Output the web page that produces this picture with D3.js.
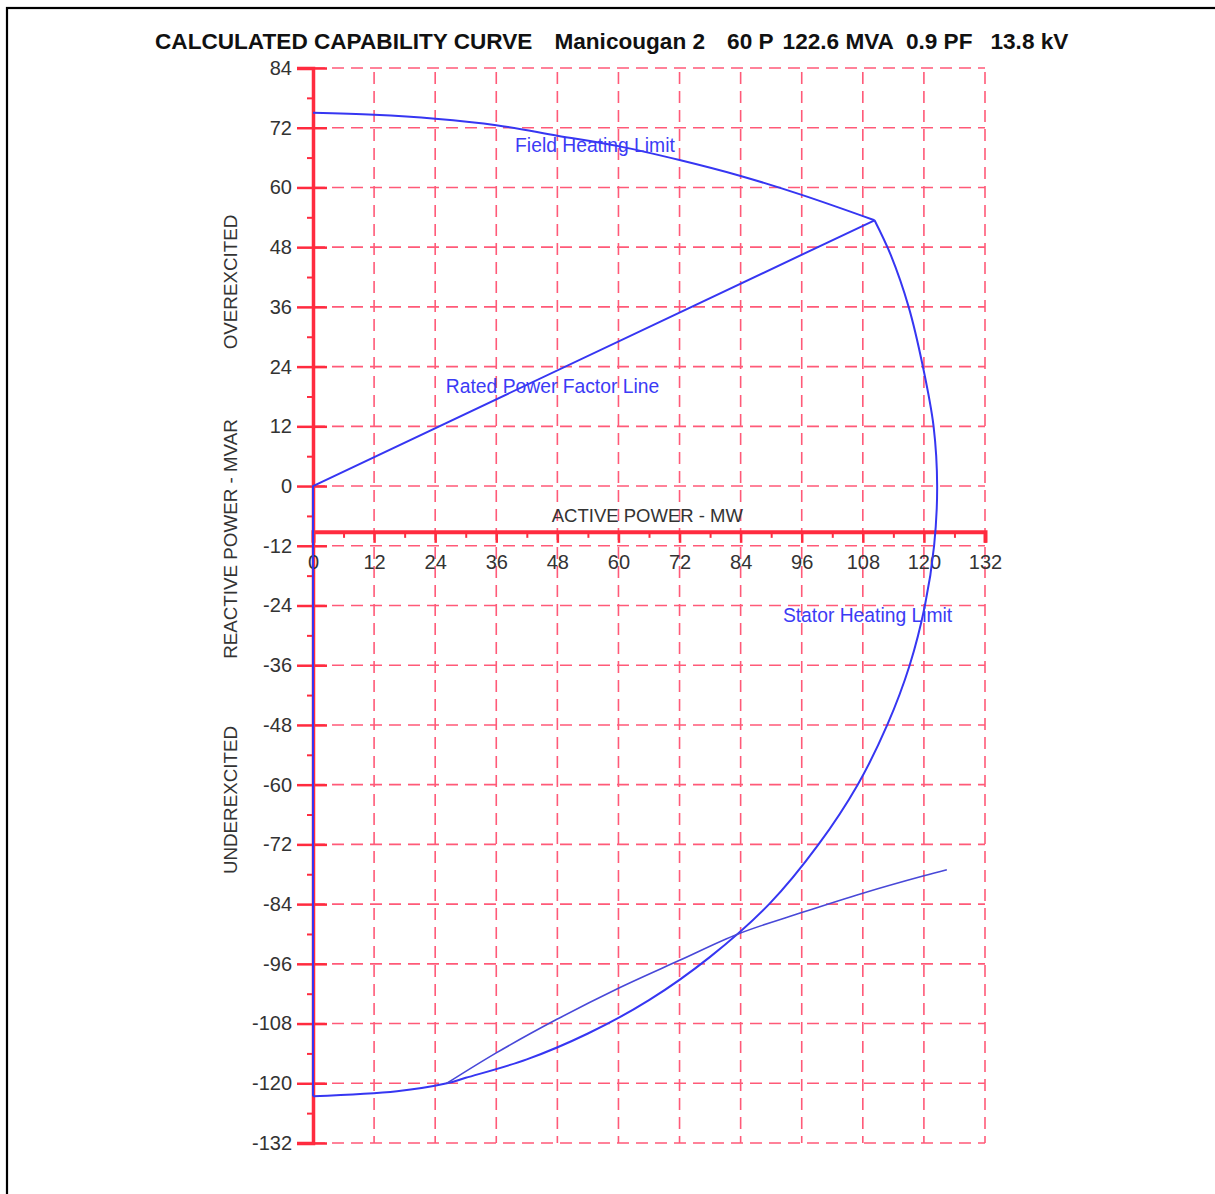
<!DOCTYPE html>
<html>
<head>
<meta charset="utf-8">
<script src="https://cdn.jsdelivr.net/npm/d3@7"></script>
<style>
	body { margin: 0; background: #fff; }
	svg { display: block; font-family: "Liberation Sans", Arial, sans-serif; }
</style>
</head>
<body>
<div id="chart"></div>
<script>
// Chart data (MW, MVAR)
var titleParts = ["CALCULATED CAPABILITY CURVE", "Manicougan 2", "60 P", "122.6 MVA", "0.9 PF", "13.8 kV"];

var xTicks = [0, 12, 24, 36, 48, 60, 72, 84, 96, 108, 120, 132];
var yTicks = [84, 72, 60, 48, 36, 24, 12, 0, -12, -24, -36, -48, -60, -72, -84, -96, -108, -120, -132];

// Field heating limit (overexcited)
var fieldLimit = [[0, 75], [12, 74.6], [24, 73.8], [36, 72.5], [48, 70.4], [60, 68.3],
	[72, 65.5], [84, 62.3], [96, 58.5], [110.3, 53.4]];

// Stator heating limit
var statorLimit = [[110.3, 53.4], [113.5, 46.4], [117, 36], [119.8, 24], [121.9, 12], [122.6, 0],
	[122, -12], [120.2, -24], [117.2, -36], [112.8, -48], [107, -60], [99.3, -72], [89.6, -84],
	[78, -94.6], [66, -103.3], [54, -110], [42, -115.2], [30, -118.9], [26.3, -120],
	[16.5, -121.6], [0, -122.6]];

// Rated power factor line + vertical limit along the axis
var pfLine = [[110.3, 53.4], [0, 0], [0, -122.6]];

// Underexcited stability limit
var stabilityLimit = [[26.3, -120], [36, -113.9], [48, -107.1], [60, -100.9], [72, -95.3],
	[83.5, -90], [96, -85.7], [108, -81.8], [120, -78.3], [124.5, -77.1]];

var curveLabels = [
	{text: "Field Heating Limit", x: 39.7, y: 67.2},
	{text: "Rated Power Factor Line", x: 26.1, y: 18.6},
	{text: "Stator Heating Limit", x: 92.3, y: -27.4}
];

var xAxisValue = -9.2;

var W = 1215, H = 1194;
var red = "#ff2b3f", grid = "#ff5a78", blue = "#3636f2", textCol = "#333";

var svg = d3.select("#chart").append("svg")
	.attr("width", W)
	.attr("height", H);

svg.append("rect").attr("width", W).attr("height", H).attr("fill", "#fff");

// frame
svg.append("rect")
	.attr("x", 7).attr("y", 8)
	.attr("width", W + 20).attr("height", H + 20)
	.attr("fill", "none")
	.attr("stroke", "#000")
	.attr("stroke-width", 2.2);

var x = d3.scaleLinear().domain([0, 132]).range([313, 985]);
var y = d3.scaleLinear().domain([84, -132]).range([68, 1143]);

// Title
var title = svg.append("text")
	.attr("x", 155).attr("y", 49)
	.attr("font-size", 22.6)
	.attr("font-weight", "bold")
	.attr("fill", "#111");
var gaps = [0, 22, 22, 9, 12, 18];
title.selectAll("tspan")
	.data(titleParts)
	.enter().append("tspan")
	.attr("dx", function(d, i) { return gaps[i]; })
	.text(function(d) { return d; });

// Grid
var g = svg.append("g").attr("class", "grid");
g.selectAll(".hgrid")
	.data(yTicks)
	.enter().append("line")
	.attr("x1", x(0)).attr("x2", x(132))
	.attr("y1", function(d) { return y(d); })
	.attr("y2", function(d) { return y(d); })
	.attr("stroke", grid)
	.attr("stroke-width", 1.6)
	.attr("stroke-dasharray", "12,7");

g.selectAll(".vgrid")
	.data(xTicks.slice(1))
	.enter().append("line")
	.attr("y1", y(84)).attr("y2", y(-132))
	.attr("x1", function(d) { return x(d); })
	.attr("x2", function(d) { return x(d); })
	.attr("stroke", grid)
	.attr("stroke-width", 1.6)
	.attr("stroke-dasharray", "12,7")
	.attr("stroke-dashoffset", -4);

var fmt = function(d) { return String(d); };

// Y axis, major ticks on both sides of the line
var yAxis = d3.axisLeft(y).tickValues(yTicks).tickSize(16).tickPadding(5).tickFormat(fmt);
var gy = svg.append("g")
	.attr("transform", "translate(" + x(0) + ",0)")
	.call(yAxis);
gy.select(".domain").attr("stroke", red).attr("stroke-width", 3.5);
gy.selectAll(".tick line").attr("x2", -16).attr("x1", 14).attr("stroke", red).attr("stroke-width", 2.5);
gy.selectAll(".tick text")
	.attr("font-size", 20)
	.attr("font-family", "Liberation Sans, Arial, sans-serif")
	.attr("fill", textCol);

var yMinor = d3.range(-126, 84, 12);
svg.append("g")
	.attr("transform", "translate(" + x(0) + ",0)")
	.call(d3.axisLeft(y).tickValues(yMinor).tickSize(6).tickFormat(""))
	.call(function(s) {
		s.select(".domain").remove();
		s.selectAll(".tick line").attr("stroke", red).attr("stroke-width", 2);
	});

// X axis
var xAxis = d3.axisBottom(x).tickValues(xTicks).tickSize(11).tickPadding(12).tickFormat(fmt);
var gx = svg.append("g")
	.attr("transform", "translate(0," + y(xAxisValue) + ")")
	.call(xAxis);
gx.select(".domain").attr("stroke", red).attr("stroke-width", 4);
gx.selectAll(".tick line").attr("stroke", red).attr("stroke-width", 2.5);
gx.selectAll(".tick text")
	.attr("font-size", 20)
	.attr("font-family", "Liberation Sans, Arial, sans-serif")
	.attr("fill", textCol);

var xMinor = d3.range(6, 132, 12);
svg.append("g")
	.attr("transform", "translate(0," + y(xAxisValue) + ")")
	.call(d3.axisBottom(x).tickValues(xMinor).tickSize(6).tickFormat(""))
	.call(function(s) {
		s.select(".domain").remove();
		s.selectAll(".tick line").attr("stroke", red).attr("stroke-width", 2);
	});

// Axis titles
svg.append("text")
	.attr("x", x(46.9)).attr("y", y(-7.3))
	.attr("font-size", 18.5)
	.attr("fill", textCol)
	.text("ACTIVE POWER - MW");

var yLabels = [
	{text: "OVEREXCITED", c: 282},
	{text: "REACTIVE POWER - MVAR", c: 539},
	{text: "UNDEREXCITED", c: 800}
];
svg.selectAll(".ylab")
	.data(yLabels)
	.enter().append("text")
	.attr("transform", function(d) { return "translate(237," + d.c + ") rotate(-90)"; })
	.attr("text-anchor", "middle")
	.attr("font-size", 18.8)
	.attr("fill", textCol)
	.text(function(d) { return d.text; });

// Curves
var line = d3.line()
	.x(function(d) { return x(d[0]); })
	.y(function(d) { return y(d[1]); });
var smooth = d3.line()
	.x(function(d) { return x(d[0]); })
	.y(function(d) { return y(d[1]); })
	.curve(d3.curveCatmullRom.alpha(0.5));

svg.append("path").datum(pfLine)
	.attr("d", line)
	.attr("fill", "none").attr("stroke", blue).attr("stroke-width", 2);

svg.append("path").datum(fieldLimit)
	.attr("d", smooth)
	.attr("fill", "none").attr("stroke", blue).attr("stroke-width", 2);

svg.append("path").datum(statorLimit)
	.attr("d", smooth)
	.attr("fill", "none").attr("stroke", blue).attr("stroke-width", 2);

svg.append("path").datum(stabilityLimit)
	.attr("d", smooth)
	.attr("fill", "none").attr("stroke", "#4848d8").attr("stroke-width", 1.6);

svg.selectAll(".clab")
	.data(curveLabels)
	.enter().append("text")
	.attr("x", function(d) { return x(d.x); })
	.attr("y", function(d) { return y(d.y); })
	.attr("font-size", 19.3)
	.attr("fill", "#3b3bf5")
	.text(function(d) { return d.text; });
</script>
</body>
</html>
